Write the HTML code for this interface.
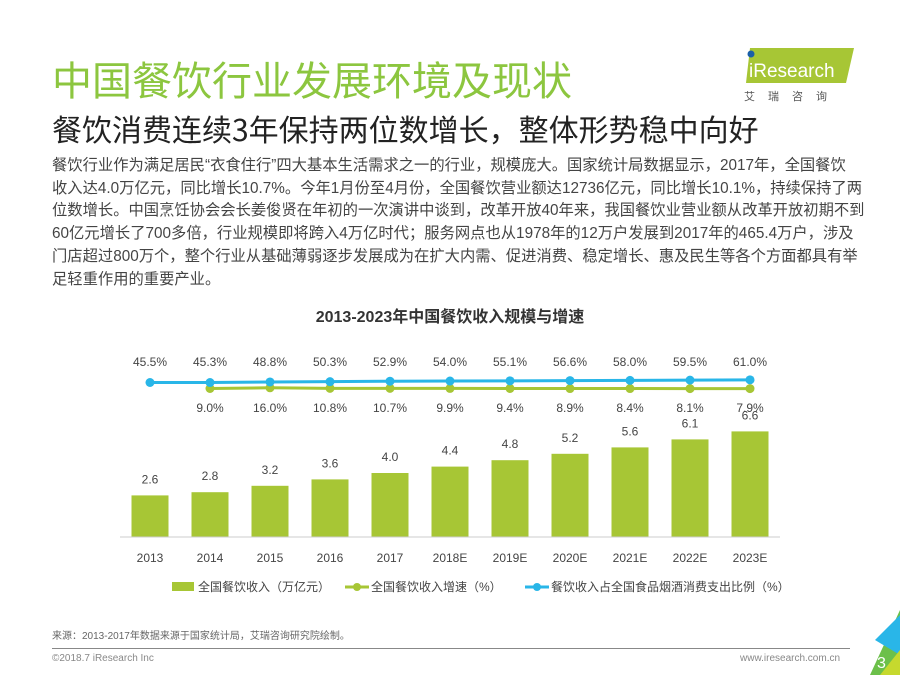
<!DOCTYPE html>
<html><head><meta charset="utf-8"><style>
body{margin:0;width:900px;height:675px;background:#fff;position:relative;overflow:hidden;font-family:"Liberation Sans","Noto Sans CJK SC",sans-serif;color:#333}
.abs{position:absolute}
</style></head><body>
<div class="abs" style="left:52px;top:49px;font-size:40px;color:#8cc63f;white-space:nowrap">中国餐饮行业发展环境及现状</div>
<div class="abs" style="left:52px;top:106px;font-size:30px;color:#222;white-space:nowrap;font-family:'Noto Sans CJK SC',sans-serif">餐饮消费连续3年保持两位数增长，整体形势稳中向好</div>
<div class="abs" style="left:742px;top:45px;width:120px;height:60px">
<svg width="120" height="60"><polygon points="8,3 112,3 104,38 4,38" fill="#a7c635"/><circle cx="9" cy="9" r="3.5" fill="#1a5fa8"/><text x="7" y="32" font-size="19" fill="#fff" font-family="Liberation Sans">iResearch</text><text x="2" y="55" font-size="11" fill="#555" letter-spacing="13" font-family="Noto Sans CJK SC">艾瑞咨询</text></svg></div>
<div class="abs" style="left:52px;top:155px;font-size:15.3px;line-height:22.7px;color:#444;white-space:nowrap">餐饮行业作为满足居民“衣食住行”四大基本生活需求之一的行业，规模庞大。国家统计局数据显示，2017年，全国餐饮<br>收入达4.0万亿元，同比增长10.7%。今年1月份至4月份，全国餐饮营业额达12736亿元，同比增长10.1%，持续保持了两<br>位数增长。中国烹饪协会会长姜俊贤在年初的一次演讲中谈到，改革开放40年来，我国餐饮业营业额从改革开放初期不到<br>60亿元增长了700多倍，行业规模即将跨入4万亿时代；服务网点也从1978年的12万户发展到2017年的465.4万户，涉及<br>门店超过800万个，整个行业从基础薄弱逐步发展成为在扩大内需、促进消费、稳定增长、惠及民生等各个方面都具有举<br>足轻重作用的重要产业。</div>
<div class="abs" style="left:0;width:900px;top:303px;text-align:center;font-size:16px;font-weight:bold;color:#333">2013-2023年中国餐饮收入规模与增速</div>
<svg class="abs" style="left:0;top:0" width="900" height="675" id="chart"></svg>
<div class="abs" style="left:52px;top:627px;font-size:10px;color:#666">来源：2013-2017年数据来源于国家统计局，艾瑞咨询研究院绘制。</div>
<div class="abs" style="left:52px;top:648px;width:798px;height:1px;background:#888"></div>
<div class="abs" style="left:52px;top:653px;font-size:10px;color:#888">©2018.7 iResearch Inc</div>
<div class="abs" style="left:740px;top:653px;font-size:10px;color:#888">www.iresearch.com.cn</div>
<svg class="abs" style="left:850px;top:610px" width="50" height="65"><polygon points="50,0 50,65 20,65" fill="#6cc04a"/><polygon points="50,5 50,45 25,30" fill="#29b6e8"/><polygon points="30,65 50,40 50,65" fill="#c6d92e"/><text x="27" y="58" font-size="16" fill="#fff">3</text></svg>
<script>
const years=["2013","2014","2015","2016","2017","2018E","2019E","2020E","2021E","2022E","2023E"];
const revenue=[2.6,2.8,3.2,3.6,4.0,4.4,4.8,5.2,5.6,6.1,6.6];
const growth=[null,9.0,16.0,10.8,10.7,9.9,9.4,8.9,8.4,8.1,7.9];
const share=[45.5,45.3,48.8,50.3,52.9,54.0,55.1,56.6,58.0,59.5,61.0];
const svg=document.getElementById('chart');const NS="http://www.w3.org/2000/svg";
function mk(t,a,txt){const e=document.createElementNS(NS,t);for(const k in a)e.setAttribute(k,a[k]);if(txt!=null)e.textContent=txt;svg.appendChild(e);return e;}
const x=i=>150+i*60;const base=537;const yb=v=>base-v*16;
const ys=v=>382.5-(v-45.5)*0.17;const yg=v=>388.5-(v-9)*0.1;
revenue.forEach((v,i)=>{
const r=mk('rect',{x:x(i)-18.5,y:yb(v),width:37,height:base-yb(v),fill:'#a7c635'});


const t=mk('text',{x:x(i),y:yb(v)-12,'text-anchor':'middle','font-size':12,fill:'#444'},v.toFixed(1));


const a=mk('text',{x:x(i),y:562,'text-anchor':'middle','font-size':12,fill:'#444'},years[i]);


});
const ax=mk('line',{x1:120,x2:780,y1:base,y2:base,stroke:'#ccc'});


let gp=[];growth.forEach((v,i)=>{if(v!=null)gp.push(x(i)+','+yg(v));});
const gl=mk('polyline',{points:gp.join(' '),fill:'none',stroke:'#a7c635','stroke-width':3});


const sl=mk('polyline',{points:share.map((v,i)=>x(i)+','+ys(v)).join(' '),fill:'none',stroke:'#29b6e8','stroke-width':3});


growth.forEach((v,i)=>{if(v==null)return;
const c=mk('circle',{cx:x(i),cy:yg(v),r:4.5,fill:'#a7c635'});


const t=mk('text',{x:x(i),y:412,'text-anchor':'middle','font-size':12,fill:'#444'},v.toFixed(1)+'%');


});
share.forEach((v,i)=>{
const c=mk('circle',{cx:x(i),cy:ys(v),r:4.5,fill:'#29b6e8'});


const t=mk('text',{x:x(i),y:366,'text-anchor':'middle','font-size':12,fill:'#444'},v.toFixed(1)+'%');


});
const leg=[["全国餐饮收入（万亿元）",'#a7c635','bar',172],["全国餐饮收入增速（%）",'#a7c635','line',345],["餐饮收入占全国食品烟酒消费支出比例（%）",'#29b6e8','line',525]];
leg.forEach(l=>{
const g=mk('g',{});


if(l[2]=='bar'){const rc=document.createElementNS(NS,'rect');rc.setAttribute('x',l[3]);rc.setAttribute('y',582);rc.setAttribute('width',22);rc.setAttribute('height',9);rc.setAttribute('fill',l[1]);g.appendChild(rc);}
else{const ln=document.createElementNS(NS,'line');ln.setAttribute('x1',l[3]);ln.setAttribute('x2',l[3]+24);ln.setAttribute('y1',587);ln.setAttribute('y2',587);ln.setAttribute('stroke',l[1]);ln.setAttribute('stroke-width',3);g.appendChild(ln);const c=document.createElementNS(NS,'circle');c.setAttribute('cx',l[3]+12);c.setAttribute('cy',587);c.setAttribute('r',4);c.setAttribute('fill',l[1]);g.appendChild(c);}
const t=document.createElementNS(NS,'text');t.setAttribute('x',l[3]+26);t.setAttribute('y',591);t.setAttribute('font-size',12);t.setAttribute('fill','#444');t.textContent=l[0];g.appendChild(t);
});
</script>
</body></html>
